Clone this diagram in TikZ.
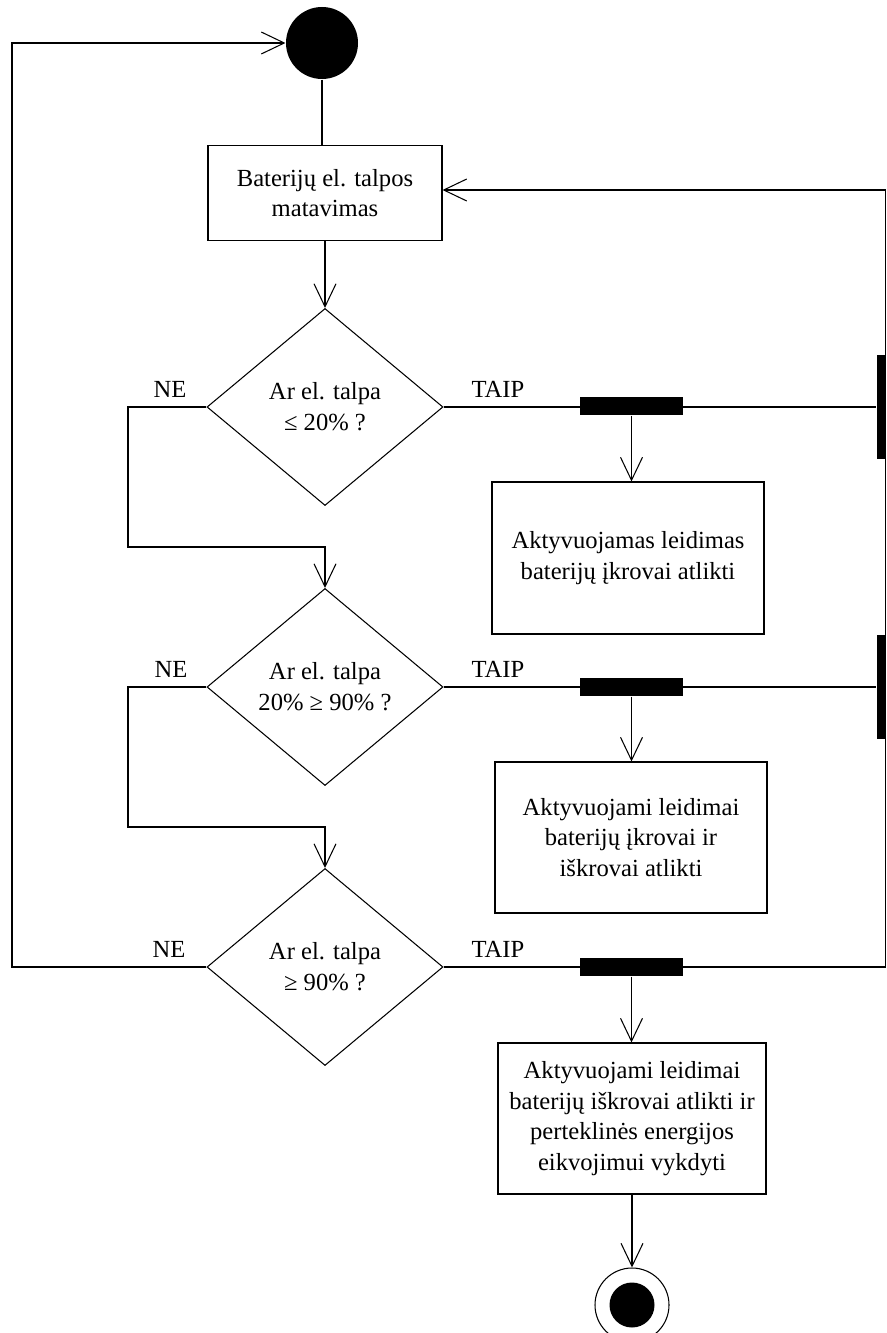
\documentclass[tikz,border=0pt]{standalone}
\usepackage{fontspec}
\setmainfont{Liberation Serif}
\usepackage{tikz}
\usetikzlibrary{arrows.meta,shapes.geometric,calc}

\tikzset{
  box/.style={draw, rectangle, align=center, inner sep=0pt},
  decision/.style={draw, diamond, align=center, inner sep=0pt, minimum width=47.2mm, minimum height=39.4mm},
  bar/.style={fill=black, inner sep=0pt, minimum width=20.6mm, minimum height=3.6mm},
  sidebar/.style={fill=black, inner sep=0pt, minimum width=1.8mm, minimum height=20.7mm},
  lbl/.style={anchor=base, inner sep=0pt},
  arr/.style={-{Straight Barb[length=4.6mm,width=4.4mm]}},
}

\begin{document}
\begin{tikzpicture}[x=0.2mm, y=-0.2mm, line width=0.6pt, font=\fontsize{14pt}{17.5pt}\selectfont]
    \useasboundingbox (0,0) rectangle (886,1333);
    \node[circle, fill=black, inner sep=0pt, minimum size=14.4mm] (start) at (322,43) {};
    \node[box, minimum width=46.8mm, minimum height=19mm] (measure) at (325,193) {Baterijų el. talpos\\matavimas};
    \node[decision] (q1) at (325,407) {Ar el. talpa\\≤ 20\% ?};
    \node[decision] (q2) at (325,687) {Ar el. talpa\\20\% ≥ 90\% ?};
    \node[decision] (q3) at (325,967) {Ar el. talpa\\≥ 90\% ?};
    \node[bar] (fork1) at (631.5,406) {};
    \node[bar] (fork2) at (631.5,687) {};
    \node[bar] (fork3) at (631.5,967) {};
    \node[sidebar] (side1) at (881.5,407) {};
    \node[sidebar] (side2) at (881.5,687) {};
    \node[box, minimum width=54.4mm, minimum height=30.4mm] (act1) at (628,558) {Aktyvuojamas leidimas\\baterijų įkrovai atlikti};
    \node[box, minimum width=54.4mm, minimum height=30.2mm] (act2) at (631,837.5) {Aktyvuojami leidimai\\baterijų įkrovai ir\\iškrovai atlikti};
    \node[box, minimum width=53.6mm, minimum height=30.2mm] (act3) at (632,1118.5) {Aktyvuojami leidimai\\baterijų iškrovai atlikti ir\\perteklinės energijos\\eikvojimui vykdyti};
    \node[circle, draw, inner sep=0pt, minimum size=14.8mm] (stop) at (632,1305) {};
    \node[circle, fill=black, inner sep=0pt, minimum size=9mm] (stopdot) at (stop) {};

    \node[lbl] (ne1) at (170,397) {NE};
    \node[lbl] (ne2) at (171,677) {NE};
    \node[lbl] (ne3) at (169,957) {NE};
    \node[lbl] (taip1) at (498,397) {TAIP};
    \node[lbl] (taip2) at (498,677) {TAIP};
    \node[lbl] (taip3) at (498,957) {TAIP};

    \coordinate (bend1) at (128,547);
    \coordinate (bend2) at (128,827);
    \coordinate (loopL) at (12,967);
    \coordinate (loopR) at (885.5,190);

    \draw (start) -- (start |- measure.north);
    \draw[arr] (measure) -- (q1);
    \draw[arr] (q1.west) -| (bend1) -| (q2.north);
    \draw[arr] (q2.west) -| (bend2) -| (q3.north);
    \draw[arr] (q3.west) -- (loopL) |- (start.west);
    \draw (q1.east) -- (side1.west);
    \draw (q2.east) -- (side2.west);
    \draw[arr] (q3.east) -- (loopR |- q3.east) -- (loopR) -- (measure.east |- loopR);
    \draw[arr] (fork1) -- (fork1 |- act1.north);
    \draw[arr] (fork2) -- (fork2 |- act2.north);
    \draw[arr] (fork3) -- (fork3 |- act3.north);
    \draw[arr] (act3) -- (stop);
\end{tikzpicture}
\end{document}
